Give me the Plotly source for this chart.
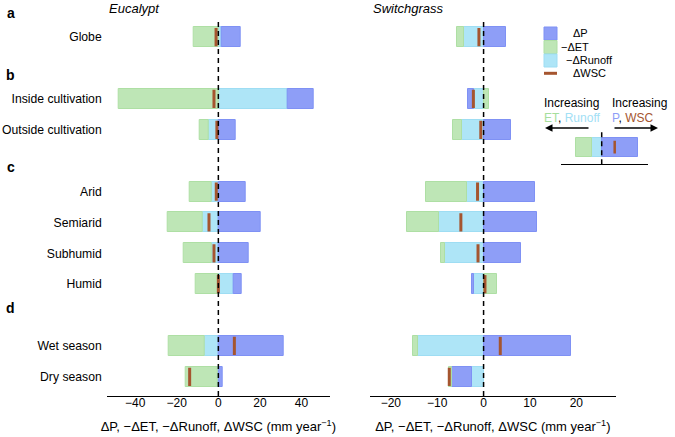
import plotly.graph_objects as go

rows = ["Globe", "Inside cultivation", "Outside cultivation", "Arid", "Semiarid",
        "Subhumid", "Humid", "Wet season", "Dry season"]
row_pos = [0, 2, 3, 5, 6, 7, 8, 10, 11]

# Eucalypt
euc_dP = [9.1, 12.8, 8.5, 13.0, 20.2, 14.6, 3.9, 31.4, 2.2]
euc_negET = [-12.0, -48.1, -4.3, -10.7, -16.8, -13.2, -10.9, -17.0, -15.6]
euc_negRunoff = [1.8, 33.2, -4.8, -3.2, -7.7, -3.4, 7.2, -6.7, -0.3]
euc_dWSC = [-1.1, -2.1, -0.7, -1.0, -4.5, -2.1, 0.0, 7.7, -13.8]

# Switchgrass
sw_dP = [4.9, -1.3, 6.0, 11.1, 11.6, 8.0, -0.5, 18.9, -4.2]
sw_negET = [-1.6, 1.1, -2.0, -8.9, -6.8, -0.9, 2.8, -1.1, -0.6]
sw_negRunoff = [-4.2, -2.0, -4.6, -3.5, -9.7, -8.3, -2.0, -14.1, -2.6]
sw_dWSC = [-1.0, -2.2, -0.6, -1.3, -4.9, -1.2, 0.3, 3.6, -7.4]

# schematic key
key_dP = [3.6]
key_negET = [-1.6]
key_negRunoff = [-1.0]
key_dWSC = [1.3]

FONT = "Liberation Sans, Arial, sans-serif"
BLUE, BLUE_L = "#8E9EF7", "#7F91F4"
GREEN, GREEN_L = "#BEE6B6", "#AEDFA4"
CYAN, CYAN_L = "#AEE5F7", "#9EDDF3"
BROWN = "#A5552F"
BW = 0.65


def panel_traces(dP, negET, negRunoff, dWSC, xa, ya, y, width, msize, mwidth):
    out = []
    for vals, fill, edge in [(negRunoff, CYAN, CYAN_L), (dP, BLUE, BLUE_L), (negET, GREEN, GREEN_L)]:
        out.append(go.Bar(x=vals, y=y, orientation="h", width=width,
                          marker=dict(color=fill, line=dict(color=edge, width=1)),
                          xaxis=xa, yaxis=ya, showlegend=False))
    out.append(go.Scatter(x=dWSC, y=y, mode="markers", xaxis=xa, yaxis=ya,
                          marker=dict(symbol="line-ns", size=msize,
                                      line=dict(color=BROWN, width=mwidth)),
                          showlegend=False))
    return out


data = (panel_traces(euc_dP, euc_negET, euc_negRunoff, euc_dWSC, "x", "y", row_pos, BW, 13, 3)
        + panel_traces(sw_dP, sw_negET, sw_negRunoff, sw_dWSC, "x2", "y2", row_pos, BW, 13, 3)
        + panel_traces(key_dP, key_negET, key_negRunoff, key_dWSC, "x3", "y3", [0], 1.1, 9, 2.5))

W, H = 675, 437


def px(x):
    return x / W


def py(y):
    return 1 - y / H


ydom = [py(396), py(18)]
xtitle = "ΔP, −ΔET, −ΔRunoff, ΔWSC (mm year<sup>−1</sup>)"
xcommon = dict(showgrid=False, zeroline=False, showline=True, linecolor="black", linewidth=1.3,
               ticks="", tickfont=dict(size=12, color="black"), automargin=False,
               ticklabelstandoff=-5,
               title=dict(text=xtitle, font=dict(size=13, color="black"), standoff=13))
ycommon = dict(showgrid=False, zeroline=False, showline=False, ticks="", automargin=False,
               range=[11.62, -0.62], tickvals=row_pos, domain=ydom)

layout = go.Layout(
    width=W, height=H, margin=dict(l=0, r=0, t=0, b=0, autoexpand=False),
    paper_bgcolor="white", plot_bgcolor="white",
    font=dict(family=FONT, color="black"),
    barmode="relative", bargap=0,
    xaxis=dict(xcommon, domain=[px(106.7), px(330)], range=[-53.7, 53.7],
               tickvals=[-40, -20, 0, 20, 40], anchor="y"),
    yaxis=dict(ycommon, ticktext=rows, tickfont=dict(size=12.2, color="black"),
               anchor="x", ticklabelstandoff=4),
    xaxis2=dict(xcommon, domain=[px(370), px(615.7)], range=[-24.5, 28.5],
                tickvals=[-20, -10, 0, 10, 20], anchor="y2"),
    yaxis2=dict(ycommon, showticklabels=False, anchor="x2"),
    xaxis3=dict(domain=[px(561), px(648)], range=[-4.07, 4.63], showgrid=False, zeroline=False,
                showline=True, linecolor="black", linewidth=1.3, showticklabels=False,
                ticks="", anchor="y3", automargin=False),
    yaxis3=dict(domain=[py(164.3), py(130)], range=[-1, 1], visible=False, anchor="x3",
                automargin=False),
    showlegend=False,
)

fig = go.Figure(data=data, layout=layout)

# zero lines
for xr, yr in [("x", "y domain"), ("x2", "y2 domain"), ("x3", "y3 domain")]:
    fig.add_shape(type="line", xref=xr, yref=yr, x0=0, x1=0, y0=0, y1=1,
                  line=dict(color="black", width=1.5, dash="5px,4px"))

# panel letters
for letter, yy in [("a", 13.3), ("b", 75), ("c", 166.7), ("d", 308.3)]:
    fig.add_annotation(x=px(10.5), y=py(yy), xref="paper", yref="paper", text="<b>%s</b>" % letter,
                       showarrow=False, font=dict(size=14), xanchor="center", yanchor="middle")

# panel titles
for name, xx in [("Eucalypt", 107), ("Switchgrass", 371)]:
    fig.add_annotation(x=px(xx), y=py(8), xref="paper", yref="paper", text="<i>%s</i>" % name,
                       showarrow=False, font=dict(size=13), xanchor="left", yanchor="middle")

# legend
sw_x0, sw_x1 = px(544), px(557)
for (y0, y1), c, e in [((27, 40), BLUE, BLUE_L), ((40.5, 53.5), GREEN, GREEN_L),
                       ((54, 67), CYAN, CYAN_L)]:
    fig.add_shape(type="rect", xref="paper", yref="paper", x0=sw_x0, x1=sw_x1,
                  y0=py(y1), y1=py(y0), fillcolor=c, line=dict(color=e, width=1))
fig.add_shape(type="line", xref="paper", yref="paper", x0=sw_x0, x1=sw_x1,
              y0=py(73.3), y1=py(73.3), line=dict(color=BROWN, width=3))
for label, xx, yy in [("ΔP", 570.7, 33.3), ("−ΔET", 559.3, 46.5), ("−ΔRunoff", 564, 60.3),
                      ("ΔWSC", 570.7, 73.3)]:
    fig.add_annotation(x=px(xx), y=py(yy), xref="paper", yref="paper", text=label,
                       showarrow=False, font=dict(size=11), xanchor="left", yanchor="middle")

# schematic key text
fig.add_annotation(x=px(542), y=py(103), xref="paper", yref="paper", text="Increasing",
                   showarrow=False, font=dict(size=12), xanchor="left", yanchor="middle")
fig.add_annotation(x=px(610), y=py(103), xref="paper", yref="paper", text="Increasing",
                   showarrow=False, font=dict(size=12), xanchor="left", yanchor="middle")
fig.add_annotation(x=px(542), y=py(118), xref="paper", yref="paper",
                   text="<span style='color:#A6DE9C'>ET</span>, <span style='color:#A2E0F5'>Runoff</span>",
                   showarrow=False, font=dict(size=12), xanchor="left", yanchor="middle")
fig.add_annotation(x=px(610), y=py(118), xref="paper", yref="paper",
                   text="<span style='color:#8E9EF7'>P</span>, <span style='color:#A5552F'>WSC</span>",
                   showarrow=False, font=dict(size=12), xanchor="left", yanchor="middle")
fig.add_annotation(x=px(545), y=py(128), xref="paper", yref="paper", ax=45, ay=0, text="",
                   showarrow=True, arrowhead=2, arrowsize=1, arrowwidth=1.5, arrowcolor="black")
fig.add_annotation(x=px(658), y=py(128), xref="paper", yref="paper", ax=-45, ay=0, text="",
                   showarrow=True, arrowhead=2, arrowsize=1, arrowwidth=1.5, arrowcolor="black")

fig.write_html("out.html", config={"displayModeBar": False},
               post_script="document.body.style.margin='0px';")
